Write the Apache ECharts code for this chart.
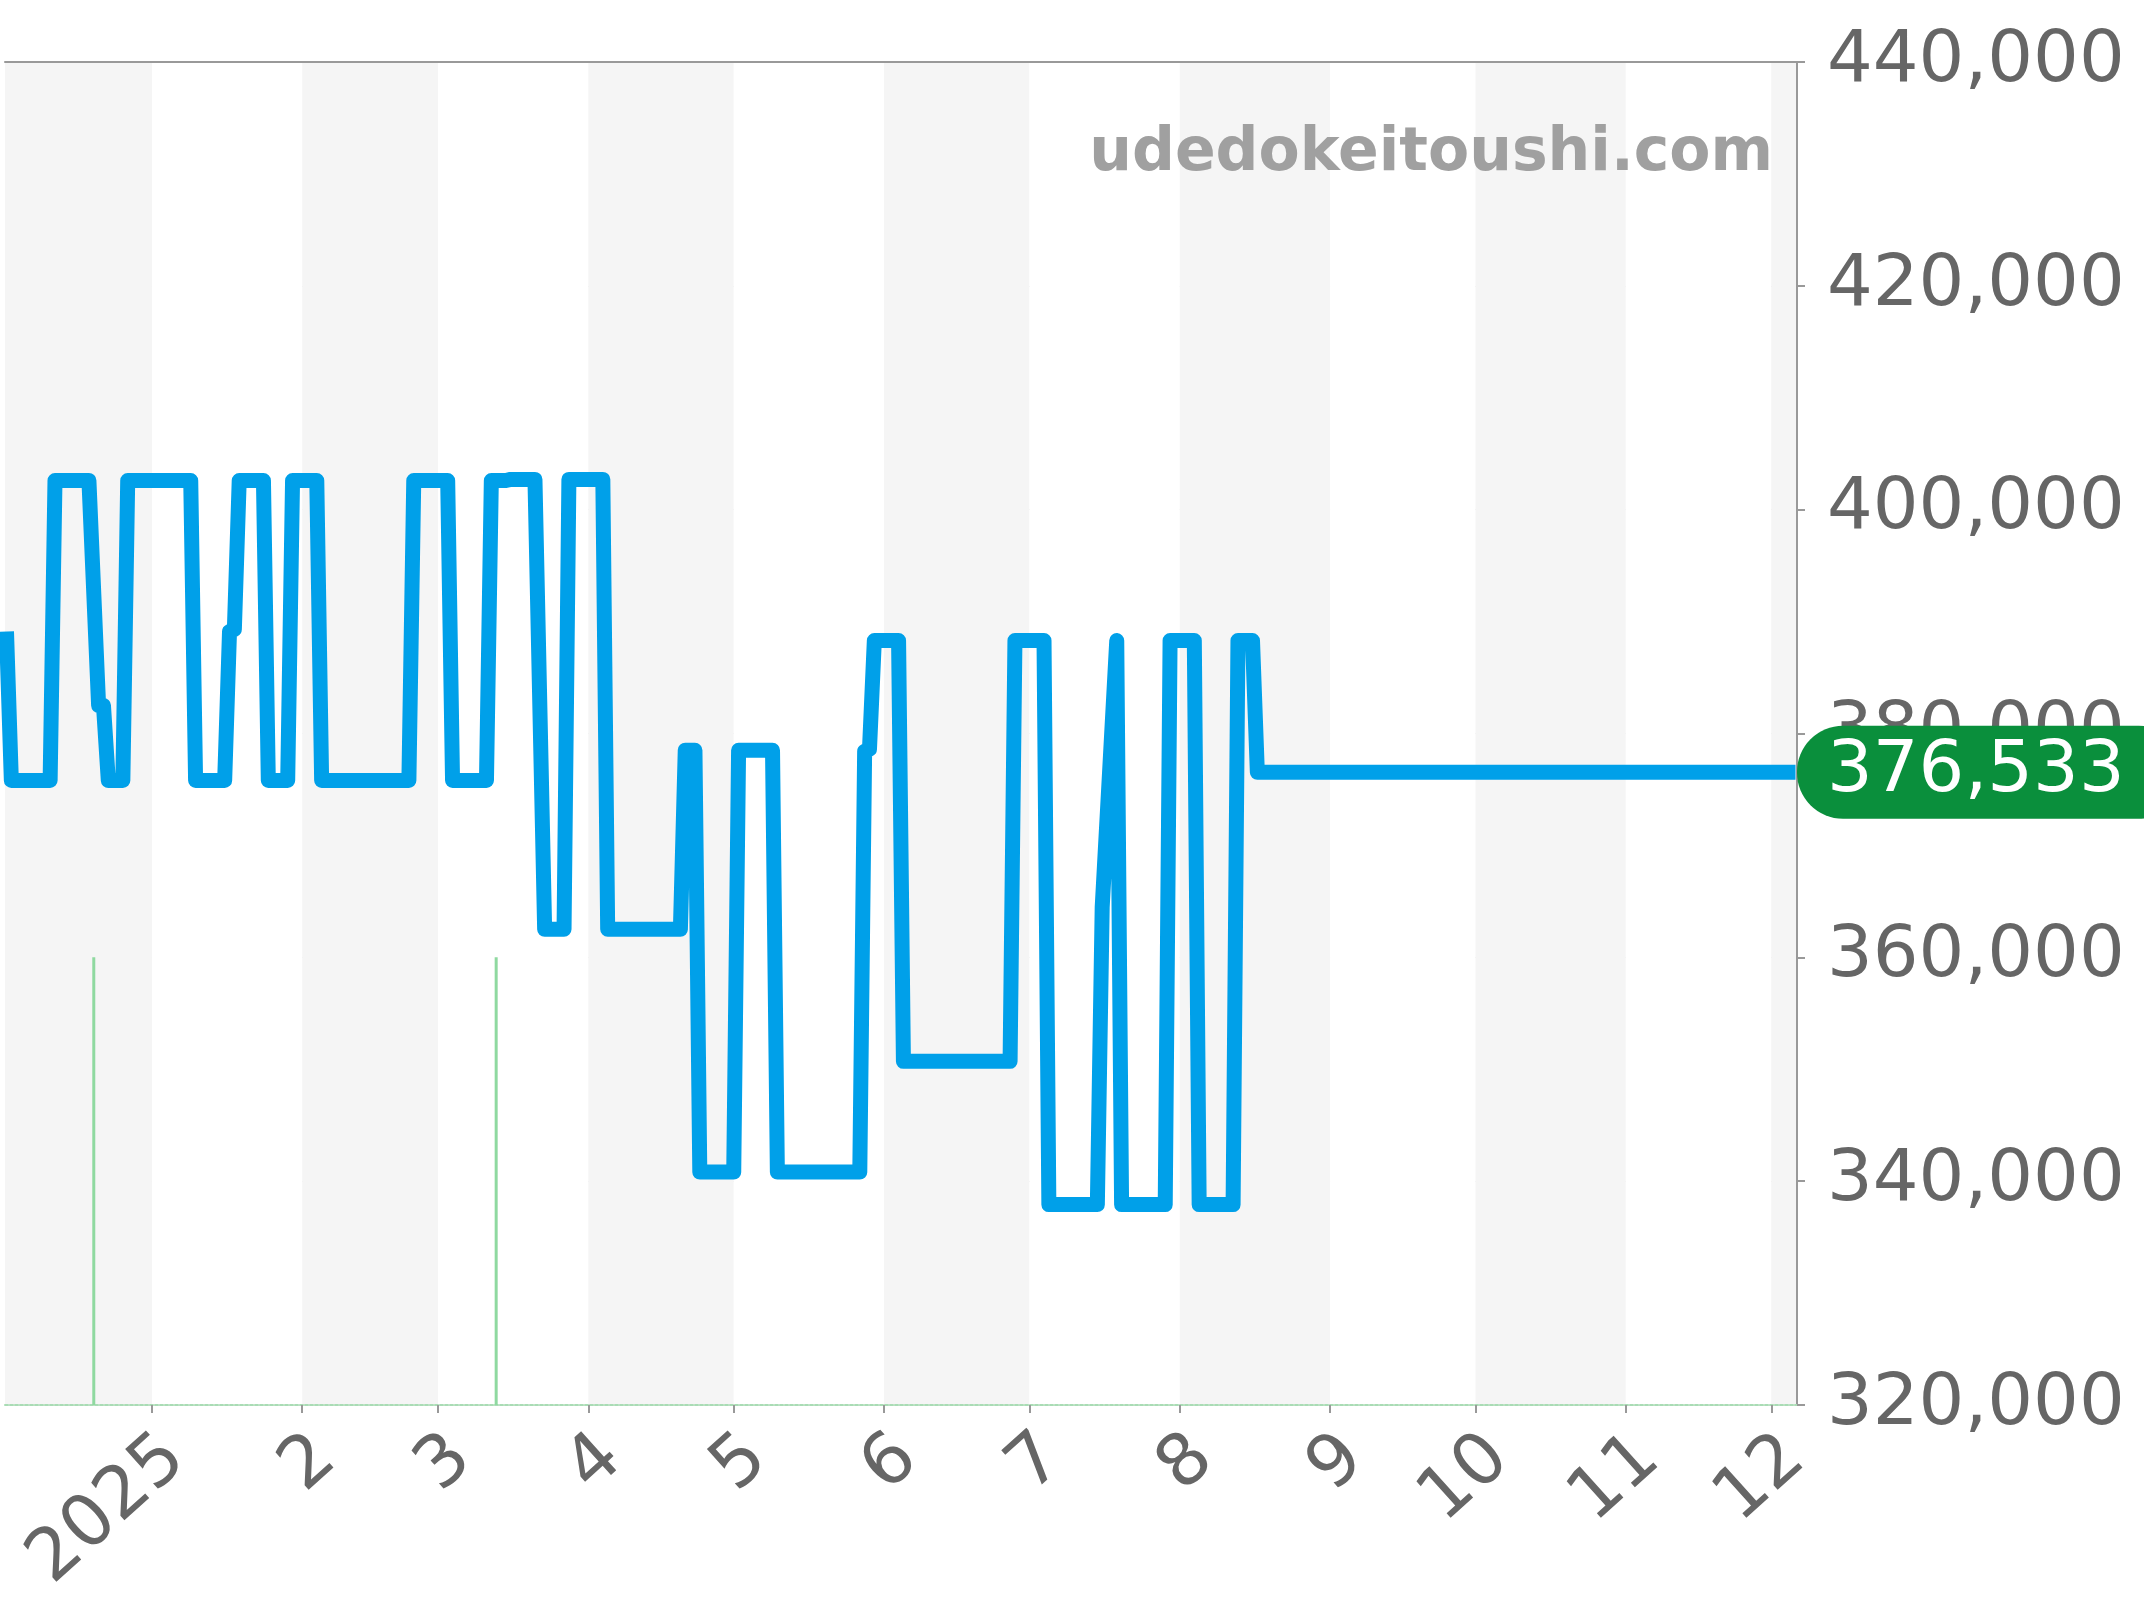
<!DOCTYPE html>
<html><head><meta charset="utf-8">
<script src="https://cdn.jsdelivr.net/npm/echarts@6/dist/echarts.min.js"></script>
<style>html,body{margin:0;padding:0;background:#fff}#c{width:2144px;height:1600px}</style>
</head><body><div id="c"></div>
<script>
// ---- data ----
const priceDates = [
  '2024-12-02','2024-12-03','2024-12-11','2024-12-12','2024-12-19','2024-12-21','2024-12-22','2024-12-23',
  '2024-12-26','2024-12-27','2025-01-09','2025-01-10','2025-01-16','2025-01-17','2025-01-18','2025-01-19',
  '2025-01-24','2025-01-25','2025-01-29','2025-01-30','2025-02-04','2025-02-05','2025-02-23','2025-02-24',
  '2025-03-03','2025-03-04','2025-03-11','2025-03-12','2025-03-15','2025-03-16','2025-03-21','2025-03-23',
  '2025-03-27','2025-03-28','2025-04-04','2025-04-05','2025-04-20','2025-04-21','2025-04-23','2025-04-24',
  '2025-05-01','2025-05-02','2025-05-09','2025-05-10','2025-05-27','2025-05-28','2025-05-29','2025-05-30',
  '2025-06-04','2025-06-05','2025-06-27','2025-06-28','2025-07-04','2025-07-05','2025-07-15','2025-07-16',
  '2025-07-19','2025-07-20','2025-07-29','2025-07-30','2025-08-04','2025-08-05','2025-08-12','2025-08-13',
  '2025-08-16','2025-08-17','2025-12-06'
];
const priceValues = [
  389100,375800,375800,402600,402600,382500,382500,375800,
  375800,402600,402600,375800,375800,389100,389300,402600,
  402600,375800,375800,402600,402600,375800,375800,402600,
  402600,375800,375800,402600,402600,402700,402700,362500,
  362500,402700,402700,362500,362500,378500,378500,340800,
  340800,378500,378500,340800,340800,378400,378600,388300,
  388300,350700,350700,388300,388300,337900,337900,364500,
  388300,337900,337900,388300,388300,337900,337900,388300,
  388300,376533,376533
];
const barDates = ['2024-12-20', '2025-03-13'];
const barValues = [360000, 360000];
const monthLabels = ['2025','2','3','4','5','6','7','8','9','10','11','12'];
const yMin = 320000, yMax = 440000, yStep = 20000;
const lastPrice = priceValues[priceValues.length - 1];
const watermark = 'udedokeitoushi.com';

// ---- chart ----
const FONT = 'DejaVu Sans';
const chart = echarts.init(document.getElementById('c'), null, {renderer: 'canvas'});
const lineData = priceDates.map((d, i) => [d, priceValues[i]]);
const barData = barDates.map((d, i) => [d, barValues[i]]);
const xMin = echarts.time.parse(priceDates[0]).getTime();
const xMax = echarts.time.parse(priceDates[priceDates.length - 1]).getTime();
const fmt = v => String(v).replace(/\B(?=(\d{3})+(?!\d))/g, ',');

chart.setOption({
  animation: false,
  backgroundColor: '#ffffff',
  grid: {left: 5, right: 347, top: 62, bottom: 194, containLabel: false},
  xAxis: [{
    type: 'time', min: xMin, max: xMax,
    minInterval: 28 * 86400000, maxInterval: 31 * 86400000,
    axisLine: {show: true, onZero: false, lineStyle: {color: '#a9dcb4', width: 2, type: [3, 2]}},
    axisTick: {show: true, length: 8, lineStyle: {color: '#999999', width: 2}},
    axisLabel: {
      show: true, rotate: 42, margin: 17, verticalAlign: 'top',
      color: '#666666', fontSize: 72, fontFamily: FONT,
      formatter: function (val) {
        const d = new Date(val);
        if (d.getDate() !== 1) return '';
        return monthLabels[d.getMonth()];
      }
    },
    splitLine: {show: false},
    splitArea: {show: true, areaStyle: {color: ['#f5f5f5', '#ffffff']}}
  }, {
    type: 'time', position: 'top', min: xMin, max: xMax,
    axisLine: {show: true, lineStyle: {color: '#999999', width: 2}},
    axisTick: {show: false}, axisLabel: {show: false},
    splitLine: {show: false}, splitArea: {show: false}
  }],
  yAxis: {
    type: 'value', position: 'right', min: yMin, max: yMax, interval: yStep,
    axisLine: {show: true, lineStyle: {color: '#999999', width: 2}},
    axisTick: {show: true, length: 8, lineStyle: {color: '#999999', width: 2}},
    axisLabel: {show: true, margin: 30, color: '#666666', fontSize: 72, fontFamily: FONT,
      padding: [11, 0, 0, 0], formatter: fmt},
    splitLine: {show: true, lineStyle: {color: '#e6e6e6', width: 1}}
  },
  graphic: [{
    type: 'text', x: 1773, y: 154, z: 10, silent: true,
    style: {text: watermark, align: 'right', verticalAlign: 'middle',
      fontSize: 60, fontWeight: 'bold', fontFamily: FONT, fill: '#a0a0a0'}
  }],
  series: [{
    type: 'bar', name: 'mark', data: barData, barWidth: 3,
    itemStyle: {color: '#8fd9a0'}, z: 1, silent: true
  }, {
    type: 'line', name: 'price', data: lineData,
    showSymbol: false, symbol: 'none',
    lineStyle: {color: '#00a0e9', width: 15, join: 'round', cap: 'butt'},
    z: 3,
    markLine: {
      silent: true, symbol: ['none', 'none'], animation: false,
      lineStyle: {color: 'rgba(0,0,0,0)', width: 0, type: 'solid'},
      label: {
        show: true, position: 'end', distance: 0,
        formatter: () => fmt(lastPrice),
        color: '#ffffff', fontSize: 72, fontFamily: FONT, lineHeight: 72,
        backgroundColor: '#0a8f3c', borderRadius: 46, padding: [11, 60, 10, 30]
      },
      data: [{yAxis: lastPrice}]
    }
  }]
});
</script>
</body></html>
